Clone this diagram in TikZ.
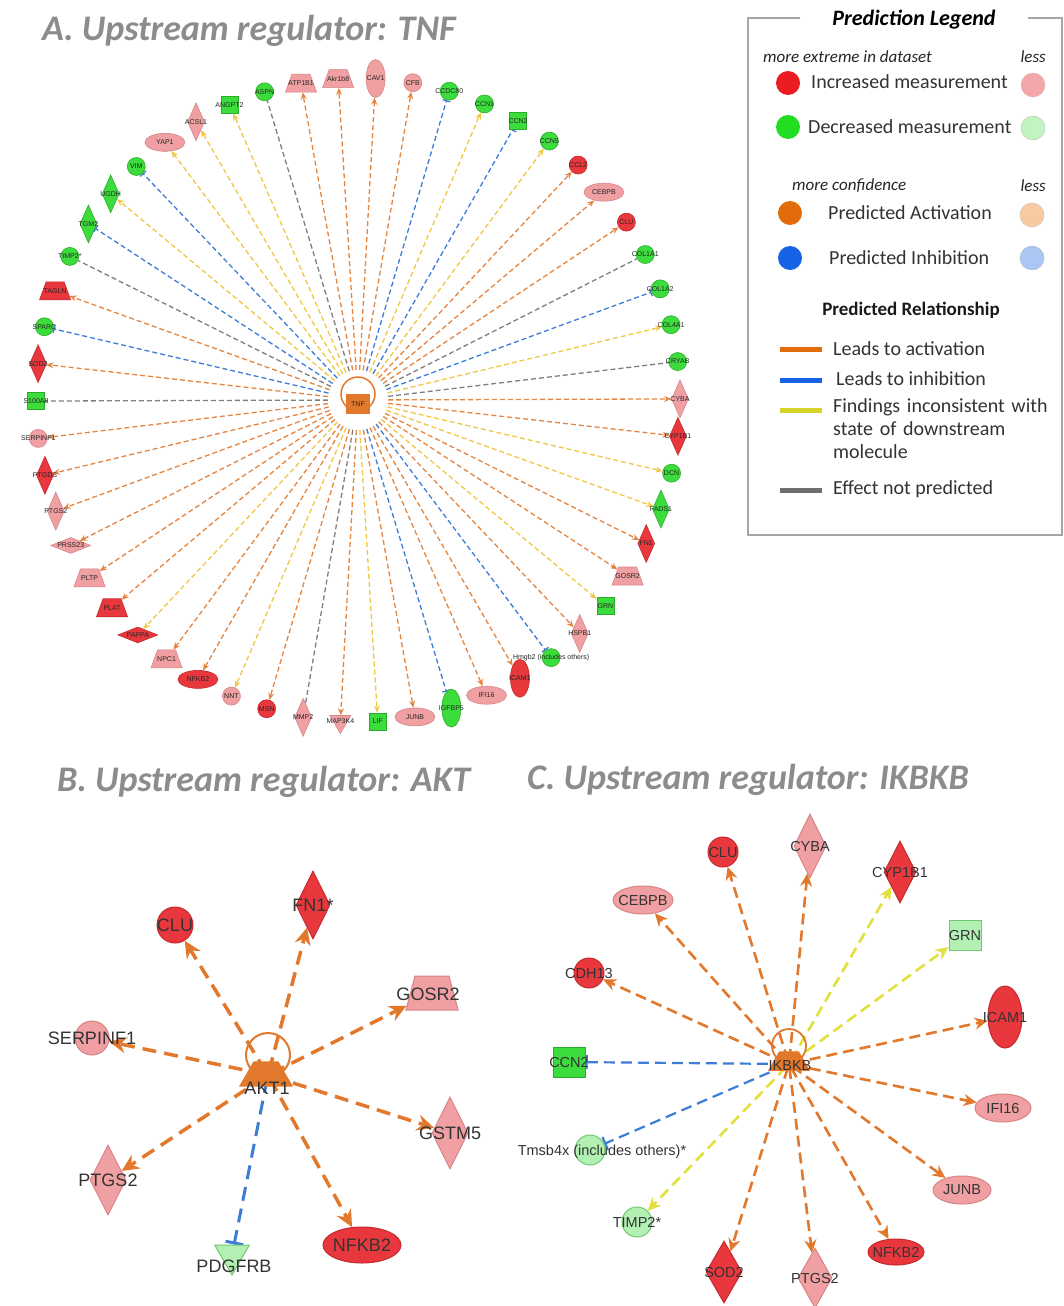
\documentclass[tikz,border=0pt]{standalone}
\usepackage{fontspec}
\setmainfont{Carlito}
\newfontfamily\arialf{Liberation Sans}
\usetikzlibrary{arrows.meta,shapes.geometric}
\pgfdeclarelayer{back}
\pgfsetlayers{back,main}

% node fills and outlines
\definecolor{ttlgray}{HTML}{8C8C8C}
\definecolor{fillR}{HTML}{E8383D}
\definecolor{lineR}{HTML}{C42A2E}
\definecolor{fillP}{HTML}{F0A0A2}
\definecolor{lineP}{HTML}{D88488}
\definecolor{fillG}{HTML}{3DDC3D}
\definecolor{lineG}{HTML}{2AAE2A}
\definecolor{fillL}{HTML}{B3F0B3}
\definecolor{lineL}{HTML}{72C872}
% relationship colours
\definecolor{actO}{HTML}{E2782B}
\definecolor{inhB}{HTML}{3E7DD6}
\definecolor{incA}{HTML}{F0C846}
\definecolor{incC}{HTML}{E2E03C}
\definecolor{nopG}{HTML}{7F7F7F}
% legend colours
\definecolor{legRed}{HTML}{EC1C24}
\definecolor{legPink}{HTML}{F4A7AA}
\definecolor{legGreen}{HTML}{22DD22}
\definecolor{legLGreen}{HTML}{C2F3C2}
\definecolor{legOrange}{HTML}{E36C0A}
\definecolor{legLOrange}{HTML}{F6CBA2}
\definecolor{legBlue}{HTML}{1763E6}
\definecolor{legLBlue}{HTML}{AAC6F2}
\definecolor{legYellow}{HTML}{D8D52A}
\definecolor{legGray}{HTML}{6E6E6E}

\begin{document}
\begin{tikzpicture}[x=1pt,y=-1pt,
  % panel titles and legend text
  ttl/.style={font=\fontsize{36}{40}\selectfont\bfseries\itshape, text=ttlgray, inner sep=0pt},
  legttl/.style={font=\fontsize{22}{26}\selectfont\bfseries\itshape, text=black, fill=white, inner sep=3pt},
  legsub/.style={font=\fontsize{19}{22}\selectfont\bfseries, text=black!90, inner sep=0pt},
  legit/.style={font=\fontsize{17}{20}\selectfont\itshape, text=black!85, inner sep=0pt},
  legtx/.style={font=\fontsize{20}{24}\selectfont, text=black!80, inner sep=0pt},
  legdot/.style={shape=circle, minimum size=24pt, inner sep=1pt},
  legline/.style={line width=5pt},
  % molecule fills
  fR/.style={fill=fillR, draw=lineR},
  fP/.style={fill=fillP, draw=lineP},
  fG/.style={fill=fillG, draw=lineG},
  fL/.style={fill=fillL, draw=lineL},
  % small molecule shapes for the TNF network
  anode/.style={inner sep=1pt, line width=0.6pt},
  sc/.style={shape=circle, minimum size=18pt},
  sd/.style={shape=diamond, minimum width=17pt, minimum height=38pt},
  se/.style={shape=ellipse, minimum width=40pt, minimum height=18pt},
  sv/.style={shape=ellipse, minimum width=19pt, minimum height=38pt},
  ss/.style={shape=rectangle, minimum size=17pt},
  st/.style={shape=trapezium, trapezium angle=70, minimum width=22pt, minimum height=18pt},
  sk/.style={shape=regular polygon, regular polygon sides=3, shape border rotate=180, minimum size=24pt},
  sh/.style={shape=diamond, minimum width=40pt, minimum height=16pt},
  albl/.style={font=\arialf\fontsize{7}{8}\selectfont, text=black!85, inner sep=0pt},
  % TNF network relationships
  aact/.style={draw=actO!90, line width=1.3pt, dash pattern=on 5pt off 3pt, -{Stealth[length=7pt,width=6pt]}},
  ainc/.style={draw=incA, line width=1.3pt, dash pattern=on 5pt off 3pt, -{Stealth[length=7pt,width=6pt]}},
  ainh/.style={draw=inhB, line width=1.3pt, dash pattern=on 5pt off 3pt, -{Bar[width=8pt]}},
  anop/.style={draw=nopG, line width=1.3pt, dash pattern=on 5pt off 3pt},
  % AKT network
  bnode/.style={inner sep=1pt, line width=1pt},
  blbl/.style={font=\arialf\fontsize{18}{20}\selectfont, text=black!80, inner sep=0pt},
  bact/.style={draw=actO, line width=3.5pt, dash pattern=on 14pt off 8pt, -{Stealth[length=17pt,width=16pt]}},
  binh/.style={draw=inhB, line width=3pt, dash pattern=on 14pt off 8pt, -{Bar[width=18pt,line width=3pt]}},
  % IKBKB network
  clbl/.style={font=\arialf\fontsize{14.5}{16}\selectfont, text=black!80, inner sep=0pt},
  cact/.style={draw=actO, line width=2.6pt, dash pattern=on 11pt off 6pt, -{Stealth[length=13pt,width=12pt]}},
  cinc/.style={draw=incC, line width=2.6pt, dash pattern=on 11pt off 6pt, -{Stealth[length=13pt,width=12pt]}},
  cinh/.style={draw=inhB, line width=2.2pt, dash pattern=on 11pt off 6pt, -{Bar[width=14pt,line width=2.2pt]}}
]
\useasboundingbox (0,0) rectangle (1063,1306);
\begin{pgfonlayer}{back}
  \fill[white] (0,0) rectangle (1063,1306);
\end{pgfonlayer}

% ---------------- titles ----------------
\node[ttl, anchor=west] (titleA) at (42,31) {A. Upstream regulator: TNF};
\node[ttl, anchor=west] (titleB) at (57,782) {B. Upstream regulator: AKT};
\node[ttl, anchor=west] (titleC) at (527,780) {C. Upstream regulator: IKBKB};

% ---------------- A: TNF radial network ----------------
\begin{scope}[shift={(358,400)}]
  \node[shape=circle, minimum size=60pt, inner sep=1pt] (tnf) at (0,0) {};
  \node[shape=circle, draw=actO, line width=1.5pt, minimum size=34pt, inner sep=1pt] (tnfring) at (0,-6) {};
  \node[shape=rectangle, fill=actO, minimum width=24pt, minimum height=20pt, inner sep=1pt,
        label={[albl]center:TNF}] (tnfcore) at (0,4) {};
  \foreach \i/\lab/\shp/\col/\rel in {
    1/ACSL1/sd/fP/ainc, 2/ANGPT2/ss/fG/ainc, 3/ASPN/sc/fG/anop, 4/ATP1B1/st/fP/aact,
    5/Akr1b8/st/fP/aact, 6/CAV1/sv/fP/aact, 7/CFB/sc/fP/aact, 8/CCDC80/sc/fG/ainh,
    9/CCN1/sc/fG/ainc, 10/CCN2/ss/fG/ainh, 11/CCN5/sc/fG/ainc, 12/CCL2/sc/fR/aact,
    13/CEBPB/se/fP/aact, 14/CLU/sc/fR/aact, 15/COL1A1/sc/fG/anop, 16/COL1A2/sc/fG/ainh,
    17/COL4A1/sc/fG/ainc, 18/CRYAB/sc/fG/anop, 19/CYBA/sd/fP/aact, 20/CYP1B1/sd/fR/aact,
    21/DCN/sc/fG/ainc, 22/FADS1/sd/fG/ainc, 23/FN1/sd/fR/aact, 24/GOSR2/st/fP/aact,
    25/GRN/ss/fG/ainc, 26/HSPB1/sd/fP/aact, 27/Hmgb2 (includes others)/sc/fG/ainh,
    28/ICAM1/sv/fR/aact, 29/IFI16/se/fP/aact, 30/IGFBP5/sv/fG/ainh, 31/JUNB/se/fP/aact,
    32/LIF/ss/fG/ainc, 33/MAP3K4/sk/fP/aact, 34/MMP2/sd/fP/anop, 35/MSN/sc/fR/aact,
    36/NNT/sc/fP/ainc, 37/NFKB2/se/fR/aact, 38/NPC1/st/fP/aact, 39/PAPPA/sh/fR/ainc,
    40/PLAT/st/fR/aact, 41/PLTP/st/fP/aact, 42/PRSS23/sh/fP/aact, 43/PTGS2/sd/fP/aact,
    44/PTGDS/sd/fR/aact, 45/SERPINF1/sc/fP/aact, 46/S100A8/ss/fG/anop, 47/SOD2/sd/fR/aact,
    48/SPARC/sc/fG/ainh, 49/TAGLN/st/fR/aact, 50/TIMP2*/sc/fG/anop, 51/TGM2/sd/fG/ainh,
    52/UGDH/sd/fG/ainc, 53/VIM/sc/fG/ainh, 54/YAP1/se/fP/ainc}
  {
    \pgfmathsetmacro\ang{-120.2+(\i-1)*6.667}
    \node[anode,\shp,\col,label={[albl]center:\lab}] (a\i) at (\ang:322) {};
    \begin{pgfonlayer}{back}
      \draw[\rel] (tnf) -- (a\i);
    \end{pgfonlayer}
  }
\end{scope}

% ---------------- legend ----------------
\draw[gray!70, line width=1.5pt] (800,18) -- (748,18) -- (748,535) -- (1062,535) -- (1062,18) -- (1028,18);
\node[legttl] (legtitle) at (914,20) {Prediction Legend};
\node[legit, anchor=west] (lx1) at (763,57) {more extreme in dataset};
\node[legit, anchor=east] (lx2) at (1046,57) {less};
\node[legdot, fill=legRed] (dInc) at (788,83) {};
\node[legtx, anchor=west] (tInc) at (811,82) {Increased measurement};
\node[legdot, fill=legPink, draw=legPink!80!black!60] (dInc2) at (1033,85) {};
\node[legdot, fill=legGreen] (dDec) at (788,127) {};
\node[legtx, anchor=west] (tDec) at (808,127) {Decreased measurement};
\node[legdot, fill=legLGreen, draw=legLGreen!70!black!60] (dDec2) at (1033,128) {};
\node[legit, anchor=west] (lx3) at (792,186) {more confidence};
\node[legit, anchor=east] (lx4) at (1046,186) {less};
\node[legdot, fill=legOrange] (dAct) at (790,213) {};
\node[legtx, anchor=west] (tAct) at (828,213) {Predicted Activation};
\node[legdot, fill=legLOrange, draw=legLOrange!70!black!60] (dAct2) at (1032,215) {};
\node[legdot, fill=legBlue] (dInh) at (790,258) {};
\node[legtx, anchor=west] (tInh) at (829,258) {Predicted Inhibition};
\node[legdot, fill=legLBlue, draw=legLBlue!70!black!60] (dInh2) at (1032,258) {};
\node[legsub] (relttl) at (911,310) {Predicted Relationship};
\coordinate (l1a) at (780,349); \coordinate (l1b) at (822,349);
\draw[legline, legOrange] (l1a) -- (l1b);
\node[legtx, anchor=west] (r1) at (833,349) {Leads to activation};
\coordinate (l2a) at (780,380); \coordinate (l2b) at (822,380);
\draw[legline, legBlue] (l2a) -- (l2b);
\node[legtx, anchor=west] (r2) at (836,379) {Leads to inhibition};
\coordinate (l3a) at (780,410); \coordinate (l3b) at (822,410);
\draw[legline, legYellow] (l3a) -- (l3b);
\node[legtx, anchor=north west, align=left, text width=230pt] (r3) at (833,398)
  {Findings inconsistent with\\[-1pt] state of downstream\\[-1pt] molecule};
\coordinate (l4a) at (780,490); \coordinate (l4b) at (822,490);
\draw[legline, legGray] (l4a) -- (l4b);
\node[legtx, anchor=west] (r4) at (833,489) {Effect not predicted};

% ---------------- B: AKT network ----------------
\node[shape=circle, minimum size=8pt, inner sep=1pt] (akt) at (268,1075) {};
\node[bnode, shape=circle, fR, minimum size=36pt, label={[blbl]center:CLU}] (bclu) at (175,925) {};
\node[bnode, shape=diamond, fR, minimum width=34pt, minimum height=68pt, label={[blbl]center:FN1*}] (bfn) at (313,905) {};
\node[bnode, shape=trapezium, trapezium angle=75, fP, minimum width=34pt, minimum height=34pt] (bgosr) at (432,993) {};
\node[blbl] (bgosrlbl) at (428,994) {GOSR2};
\node[bnode, shape=circle, fP, minimum size=34pt, label={[blbl]center:SERPINF1}] (bserp) at (92,1038) {};
\node[bnode, shape=diamond, fP, minimum width=36pt, minimum height=72pt, label={[blbl]center:GSTM5}] (bgstm) at (450,1133) {};
\node[bnode, shape=diamond, fP, minimum width=36pt, minimum height=70pt, label={[blbl]center:PTGS2}] (bptgs) at (108,1180) {};
\node[bnode, shape=ellipse, fR, minimum width=78pt, minimum height=36pt, label={[blbl]center:NFKB2}] (bnfkb) at (362,1245) {};
\node[bnode, shape=regular polygon, regular polygon sides=3, shape border rotate=180, fL, minimum size=40pt] (bpdg) at (232,1255) {};
\node[blbl] (bpdglbl) at (234,1266) {PDGFRB};
\begin{pgfonlayer}{back}
  \draw[bact] (akt) -- (bclu);
  \draw[bact] (akt) -- (bfn);
  \draw[bact] (akt) -- (bgosr);
  \draw[bact] (akt) -- (bserp);
  \draw[bact] (akt) -- (bgstm);
  \draw[bact] (akt) -- (bptgs);
  \draw[bact] (akt) -- (bnfkb);
  \draw[binh] (akt) -- (bpdg);
\end{pgfonlayer}
\node[shape=circle, draw=actO, line width=2pt, minimum size=44pt, inner sep=1pt] (aktring) at (268,1055) {};
\node[shape=trapezium, trapezium angle=60, fill=actO, minimum width=54pt, minimum height=10pt, inner sep=1pt] (aktbar) at (266,1074) {};
\node[blbl] (aktlbl) at (267,1088) {AKT1};

% ---------------- C: IKBKB network ----------------
\node[shape=circle, minimum size=8pt, inner sep=1pt] (ikk) at (789,1064) {};
\node[bnode, shape=circle, fR, minimum size=30pt, label={[clbl]center:CLU}] (cclu) at (723,852) {};
\node[bnode, shape=diamond, fP, minimum width=32pt, minimum height=64pt, label={[clbl]center:CYBA}] (ccyba) at (810,846) {};
\node[bnode, shape=diamond, fR, minimum width=32pt, minimum height=62pt, label={[clbl]center:CYP1B1}] (ccyp) at (900,872) {};
\node[bnode, shape=rectangle, fL, minimum width=32pt, minimum height=30pt, label={[clbl]center:GRN}] (cgrn) at (965,935) {};
\node[bnode, shape=ellipse, fP, minimum width=60pt, minimum height=28pt, label={[clbl]center:CEBPB}] (ccebp) at (643,900) {};
\node[bnode, shape=circle, fR, minimum size=30pt, label={[clbl]center:CDH13}] (ccdh) at (589,973) {};
\node[bnode, shape=ellipse, fR, minimum width=34pt, minimum height=62pt, label={[clbl]center:ICAM1}] (cicam) at (1005,1017) {};
\node[bnode, shape=rectangle, fG, minimum width=32pt, minimum height=30pt, label={[clbl]center:CCN2}] (cccn) at (569,1062) {};
\node[bnode, shape=ellipse, fP, minimum width=56pt, minimum height=28pt, label={[clbl]center:IFI16}] (cifi) at (1003,1108) {};
\node[bnode, shape=circle, fL, minimum size=30pt] (ctms) at (590,1150) {};
\node[clbl] (ctmslbl) at (602,1152) {Tmsb4x (includes others)*};
\node[bnode, shape=ellipse, fP, minimum width=58pt, minimum height=28pt, label={[clbl]center:JUNB}] (cjunb) at (962,1190) {};
\node[bnode, shape=circle, fL, minimum size=30pt, label={[clbl]center:TIMP2*}] (ctimp) at (637,1222) {};
\node[bnode, shape=ellipse, fR, minimum width=56pt, minimum height=26pt, label={[clbl]center:NFKB2}] (cnfkb) at (896,1252) {};
\node[bnode, shape=diamond, fR, minimum width=36pt, minimum height=62pt, label={[clbl]center:SOD2}] (csod) at (724,1272) {};
\node[bnode, shape=diamond, fP, minimum width=34pt, minimum height=60pt, label={[clbl]center:PTGS2}] (cptgs) at (815,1278) {};
\begin{pgfonlayer}{back}
  \draw[cact] (ikk) -- (cclu);
  \draw[cact] (ikk) -- (ccyba);
  \draw[cinc] (ikk) -- (ccyp);
  \draw[cinc] (ikk) -- (cgrn);
  \draw[cact] (ikk) -- (ccebp);
  \draw[cact] (ikk) -- (ccdh);
  \draw[cact] (ikk) -- (cicam);
  \draw[cinh] (ikk) -- (cccn);
  \draw[cact] (ikk) -- (cifi);
  \draw[cinh] (ikk) -- (ctms);
  \draw[cact] (ikk) -- (cjunb);
  \draw[cinc] (ikk) -- (ctimp);
  \draw[cact] (ikk) -- (cnfkb);
  \draw[cact] (ikk) -- (csod);
  \draw[cact] (ikk) -- (cptgs);
\end{pgfonlayer}
\node[shape=circle, draw=actO, line width=1.8pt, minimum size=34pt, inner sep=1pt] (ikkring) at (789,1046) {};
\node[shape=trapezium, trapezium angle=60, fill=actO, minimum width=42pt, minimum height=7pt, inner sep=1pt] (ikkbar) at (789,1061) {};
\node[clbl] (ikklbl) at (790,1065) {IKBKB};
\end{tikzpicture}
\end{document}
